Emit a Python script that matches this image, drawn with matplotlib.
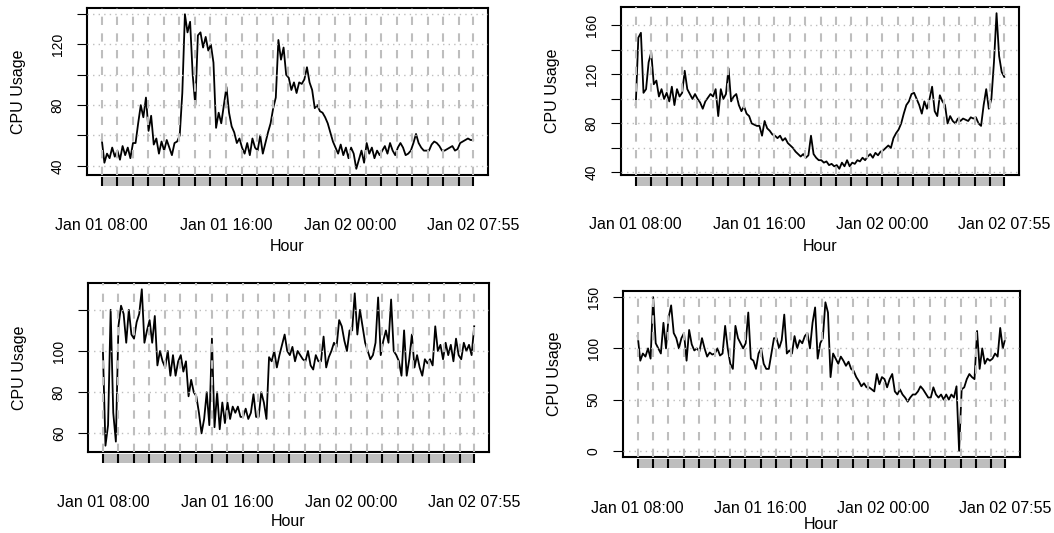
import matplotlib
matplotlib.use('Agg')
import matplotlib.pyplot as plt
import matplotlib.transforms as mtrans
import numpy as np

plt.rcParams['font.family'] = ['Liberation Sans', 'DejaVu Sans']

# CPU usage, one reading every ~10 minutes from Jan 01 08:00 to Jan 02 07:55
cpu_1 = [57, 42, 48, 45, 52, 46,  50, 44, 53, 47, 52, 45,
         55, 55, 68, 80, 72, 85,  63, 73, 54, 58, 48, 56,
         50, 57, 52, 47, 55, 56,  60, 88, 140, 128, 135, 100,
         80, 126, 128, 118, 125, 116,  120, 108, 65, 75, 68, 80,
         92, 75, 66, 62, 55, 58,  52, 48, 55, 47, 58, 52,
         50, 60, 48, 55, 62, 68,  78, 85, 123, 110, 118, 100,
         98, 90, 95, 88, 95, 94,  97, 105, 95, 90, 78, 80,
         76, 75, 72, 68, 62, 56,  52, 48, 54, 47, 52, 45,
         52, 48, 38, 44, 50, 42,  55, 48, 52, 45, 50, 47,
         50, 53, 48, 55, 50, 47,  52, 55, 52, 47, 48, 50,
         55, 61, 55, 52, 50, 50,  50, 54, 56, 55, 53, 50,
         50, 51, 52, 53, 50, 51,  55, 56, 57, 58, 57, 57]

cpu_2 = [95, 150, 154, 105, 108, 130,  138, 112, 115, 102, 108, 100,
         105, 98, 110, 95, 108, 102,  105, 123, 108, 104, 100, 104,
         100, 97, 92, 98, 101, 104,  102, 108, 86, 108, 100, 104,
         125, 98, 102, 104, 95, 90,  94, 88, 86, 80, 79, 78,
         78, 70, 82, 76, 74, 71,  70, 68, 70, 66, 68, 64,
         62, 60, 57, 55, 53, 55,  52, 54, 70, 55, 52, 50,
         50, 48, 49, 46, 47, 45,  46, 43, 48, 45, 50, 45,
         48, 47, 50, 49, 52, 50,  53, 55, 52, 56, 54, 57,
         58, 60, 62, 60, 68, 72,  75, 80, 88, 95, 98, 104,
         105, 100, 95, 88, 98, 92,  100, 110, 90, 86, 103, 98,
         95, 80, 86, 82, 80, 84,  82, 84, 83, 82, 85, 84,
         85, 80, 78, 95, 108, 92,  100, 130, 170, 135, 122, 118]

cpu_3 = [101, 54, 64, 120, 70, 56,  112, 122, 118, 104, 120, 108,
         106, 114, 118, 130, 104, 110,  115, 104, 117, 93, 100, 95,
         92, 100, 88, 98, 88, 95,  98, 90, 95, 78, 86, 80,
         78, 70, 60, 67, 80, 64,  106, 63, 80, 62, 75, 65,
         75, 67, 73, 70, 73, 68,  68, 72, 67, 70, 79, 68,
         68, 80, 75, 67, 97, 95,  100, 92, 98, 103, 108, 100,
         98, 102, 95, 100, 98, 96,  95, 100, 93, 91, 98, 95,
         95, 107, 92, 97, 100, 104,  102, 115, 112, 105, 100, 110,
         110, 128, 108, 120, 112, 104,  100, 96, 98, 104, 126, 98,
         105, 110, 104, 125, 100, 98,  95, 88, 110, 88, 96, 108,
         92, 98, 92, 88, 96, 94,  96, 93, 112, 100, 103, 96,
         104, 98, 103, 95, 106, 98,  96, 104, 100, 103, 98, 112]

cpu_4 = [112, 88, 95, 92, 100, 90,  150, 105, 100, 95, 125, 100,
         130, 142, 115, 110, 100, 110,  115, 88, 118, 104, 98, 100,
         97, 110, 100, 92, 96, 94,  95, 100, 93, 95, 122, 100,
         85, 80, 122, 110, 105, 100,  105, 135, 90, 88, 80, 95,
         100, 85, 80, 80, 95, 110,  110, 100, 108, 133, 95, 98,
         95, 112, 100, 108, 105, 112,  115, 100, 125, 140, 90, 105,
         110, 145, 135, 72, 95, 90,  85, 92, 88, 83, 87, 80,
         78, 72, 68, 63, 66, 62,  62, 60, 58, 75, 65, 72,
         70, 62, 70, 75, 58, 55,  60, 55, 52, 48, 52, 55,
         55, 58, 63, 60, 56, 52,  52, 62, 55, 52, 55, 50,
         55, 50, 55, 52, 63, 0,  60, 62, 70, 75, 72, 70,
         117, 80, 100, 85, 90, 88,  90, 95, 92, 120, 100, 110]

yticks_1 = [40, 60, 80, 100, 120, 140]
ylabs_1 = ['40', '', '80', '', '120', '']
yticks_2 = [40, 60, 80, 100, 120, 140, 160]
ylabs_2 = ['40', '', '80', '', '120', '', '160']
yticks_3 = [60, 80, 100, 120]
ylabs_3 = ['60', '80', '100', '']
yticks_4 = [0, 50, 100, 150]
ylabs_4 = ['0', '50', '100', '150']

end_hour = 23 + 55 / 60
hour_ticks = list(range(24)) + [end_hour]
xlab_pos = [0, 8, 16, end_hour]
xlab_text = ['Jan 01 08:00', 'Jan 01 16:00', 'Jan 02 00:00', 'Jan 02 07:55']

fig = plt.figure(figsize=(10.54, 5.33), dpi=100)
boxes = [[0.0825, 0.6717, 0.3805, 0.3133],
         [0.5892, 0.6717, 0.3776, 0.3152],
         [0.0835, 0.1520, 0.3805, 0.3171],
         [0.5911, 0.1426, 0.3767, 0.3114]]
series = [cpu_1, cpu_2, cpu_3, cpu_4]
yt = [yticks_1, yticks_2, yticks_3, yticks_4]
yl = [ylabs_1, ylabs_2, ylabs_3, ylabs_4]
hour_gap = [64, 64, 62, 60]   # px from box bottom to top of "Hour"
tick_pad = [31, 30, 31, 32]

for i, (box, vals, ticks, labs) in enumerate(zip(boxes, series, yt, yl)):
    ax = fig.add_axes(box)
    vals = np.array(vals, dtype=float)
    x = np.linspace(0, end_hour, len(vals))
    ax.plot(x, vals, color='black', lw=1.3, zorder=2)

    lo, hi = vals.min(), vals.max()
    pad = (hi - lo) * 0.04
    ax.set_ylim(lo - pad, hi + pad)
    ax.set_xlim(-end_hour * 0.04, end_hour * 1.04)

    # grid on top of the line, R style
    for h in hour_ticks:
        ax.axvline(h, color='#bebebe', lw=1.5, ls=(0, (4, 4)), zorder=3)
    for t in ticks:
        ax.axhline(t, color='#bebebe', lw=1.0, ls=(0, (1, 3)), zorder=3)

    # grey bar with hour marks below the box
    trans = mtrans.blended_transform_factory(ax.transData, ax.transAxes)
    h_ax = box[3] * 533
    w_ax = box[2] * 1054
    y0 = -2 / h_ax
    y1 = -11 / h_ax
    ax.add_patch(plt.Rectangle((0, y1), end_hour, y0 - y1, transform=trans,
                               facecolor='#bebebe', edgecolor='none', clip_on=False))
    ax.vlines(hour_ticks, y1, y0, transform=trans, colors='black', lw=1.5, clip_on=False)

    ax.set_yticks(ticks)
    ax.set_yticklabels(labs, rotation=90, va='center', fontsize=10)
    ax.tick_params(axis='y', length=7, width=0.8, pad=9)
    ax.set_xticks(xlab_pos)
    ax.set_xticklabels(xlab_text, fontsize=11.5)
    ax.tick_params(axis='x', length=0, pad=tick_pad[i])

    ax.set_ylabel('CPU Usage', fontsize=11.5)
    ax.yaxis.set_label_coords(-61 / w_ax, 0.5)
    ax.set_xlabel('Hour', fontsize=11.5)
    ax.xaxis.set_label_coords(0.5, -hour_gap[i] / h_ax)
    for s in ax.spines.values():
        s.set_linewidth(1.5)

fig.savefig('out.png', dpi=100)
